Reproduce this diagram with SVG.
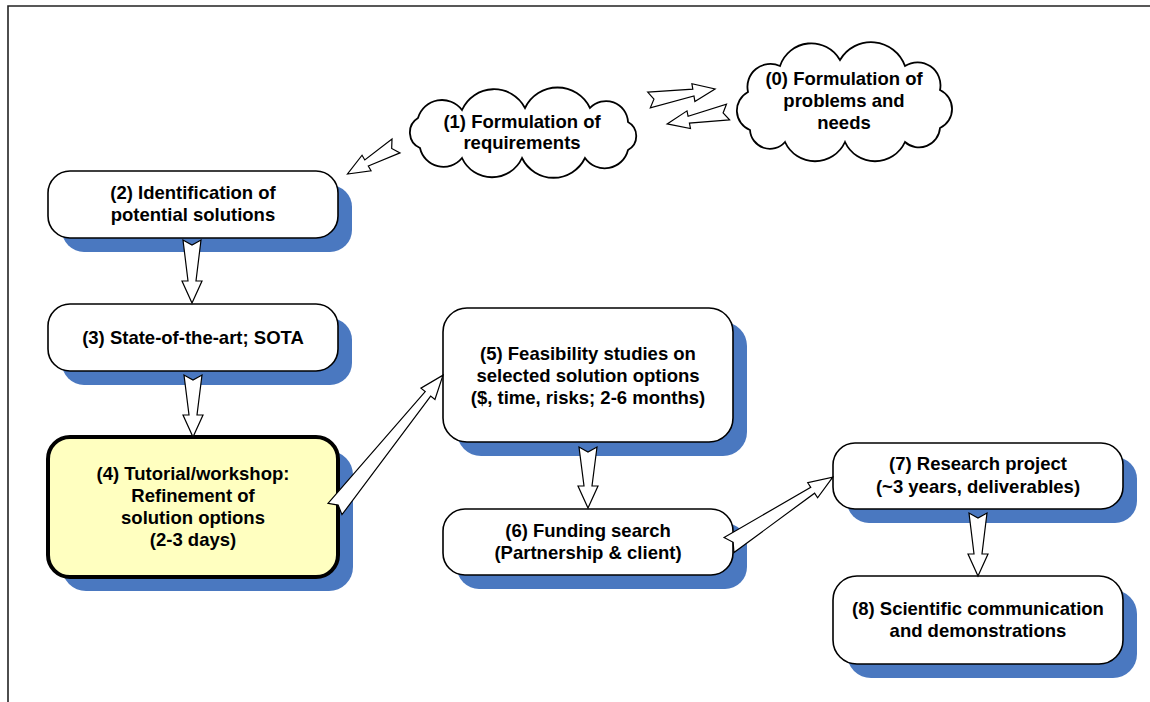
<svg xmlns="http://www.w3.org/2000/svg" width="1150" height="702" viewBox="0 0 1150 702">
<style>
.shadow{fill:#4a78c0;stroke:none}
.box{fill:#ffffff;stroke:#000;stroke-width:1.6}
.hi{fill:#ffffc0;stroke:#000;stroke-width:4}
.cloud{fill:#ffffff;stroke:#000;stroke-width:1.8}
.arr{fill:#ffffff;stroke:#000;stroke-width:1.2;stroke-linejoin:miter}
text{font-family:"Liberation Sans",Arial,sans-serif;font-weight:bold;font-size:18.5px;fill:#000;text-anchor:middle}
</style>
<rect width="1150" height="702" fill="#ffffff"/>
<path d="M8,702 V6 H1150" fill="none" stroke="#222" stroke-width="1.6"/>

<g id="node0">
<path class="cloud" d="M750,130 A21,21 0 0 1 748,92 A23,23 0 0 1 780,66 A33,33 0 0 1 840,60 A36,36 0 0 1 905,66 A23,23 0 0 1 940,90 A21,21 0 0 1 940,128 A21,21 0 0 1 905,142 A33,33 0 0 1 845,142 A33,33 0 0 1 785,142 A20,20 0 0 1 750,130 Z"/>
<text x="844" y="85">(0) Formulation of</text>
<text x="844" y="107">problems and</text>
<text x="844" y="129">needs</text>
</g>

<g id="node1">
<path class="cloud" d="M420,148 A17,17 0 0 1 418,118 A25,25 0 0 1 462,110 A35,35 0 0 1 525,108 A36,36 0 0 1 590,108 A22,22 0 0 1 628,122 A16,16 0 0 1 628,150 A24,24 0 0 1 585,158 A35,35 0 0 1 522,158 A33,33 0 0 1 462,158 A24,24 0 0 1 420,148 Z"/>
<text x="522" y="128">(1) Formulation of</text>
<text x="522" y="149">requirements</text>
</g>

<g id="node2">
<rect class="shadow" x="62" y="185" width="290" height="67" rx="22"/>
<rect class="box" x="48" y="171" width="290" height="67" rx="22"/>
<text x="193" y="199">(2) Identification of</text>
<text x="193" y="221">potential solutions</text>
</g>

<g id="node3">
<rect class="shadow" x="62" y="318" width="290" height="67" rx="22"/>
<rect class="box" x="48" y="304" width="290" height="67" rx="22"/>
<text x="193" y="344">(3) State-of-the-art; SOTA</text>
</g>

<g id="node4">
<rect class="shadow" x="62" y="451" width="291" height="140" rx="24"/>
<rect class="hi" x="48" y="437" width="290" height="140" rx="22"/>
<text x="193" y="480">(4) Tutorial/workshop:</text>
<text x="193" y="502">Refinement of</text>
<text x="193" y="524">solution options</text>
<text x="193" y="546">(2-3 days)</text>
</g>

<g id="node5">
<rect class="shadow" x="457" y="322" width="290" height="134" rx="24"/>
<rect class="box" x="443" y="308" width="290" height="134" rx="24"/>
<text x="588" y="360">(5) Feasibility studies on</text>
<text x="588" y="382">selected solution options</text>
<text x="588" y="404">($, time, risks; 2-6 months)</text>
</g>

<g id="node6">
<rect class="shadow" x="457" y="523" width="290" height="66" rx="22"/>
<rect class="box" x="443" y="509" width="290" height="66" rx="22"/>
<text x="588" y="537">(6) Funding search</text>
<text x="588" y="559">(Partnership &amp; client)</text>
</g>

<g id="node7">
<rect class="shadow" x="847" y="457" width="290" height="66" rx="22"/>
<rect class="box" x="833" y="443" width="290" height="66" rx="22"/>
<text x="978" y="470">(7) Research project</text>
<text x="978" y="493">(~3 years, deliverables)</text>
</g>

<g id="node8">
<rect class="shadow" x="847" y="590" width="290" height="88" rx="24"/>
<rect class="box" x="833" y="576" width="290" height="88" rx="24"/>
<text x="978" y="615">(8) Scientific communication</text>
<text x="978" y="637">and demonstrations</text>
</g>

<g id="connectors">
<polygon class="arr" transform="translate(396,146) rotate(150)" points="0,-8 34,-3.5 34,-9 56,0 34,9 34,3.5 0,8 5,0"/>
<polygon class="arr" transform="translate(649,100) rotate(-9.5)" points="0,-8 45,-3.5 45,-9 67,0 45,9 45,3.5 0,8 5,0"/>
<polygon class="arr" transform="translate(728,112) rotate(168.9)" points="0,-8 40,-3.5 40,-9 62,0 40,9 40,3.5 0,8 5,0"/>
<polygon class="arr" transform="translate(192,240) rotate(90)" points="0,-9 41,-4 41,-10 63,0 41,10 41,4 0,9 5,0"/>
<polygon class="arr" transform="translate(193,375) rotate(90)" points="0,-9 40,-4 40,-10 62,0 40,10 40,4 0,9 5,0"/>
<polygon class="arr" transform="translate(335,509) rotate(-51.1)" points="0,-9 148,-3.5 148,-9 172,0 148,9 148,3.5 0,9 5,0"/>
<polygon class="arr" transform="translate(588,447) rotate(90)" points="0,-9 39,-4 39,-10 61,0 39,10 39,4 0,9 5,0"/>
<polygon class="arr" transform="translate(729,545) rotate(-33.2)" points="0,-9 100,-3.5 100,-9 124,0 100,9 100,3.5 0,9 5,0"/>
<polygon class="arr" transform="translate(978,513) rotate(90)" points="0,-9 41,-4 41,-10 63,0 41,10 41,4 0,9 5,0"/>
</g>
</svg>
